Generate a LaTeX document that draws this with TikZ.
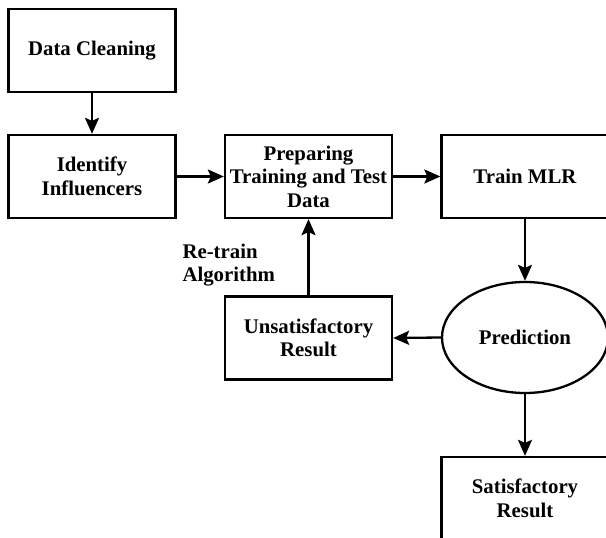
\documentclass[tikz,border=0pt]{standalone}
\usepackage{fontspec}
\setmainfont{Liberation Serif}
\usetikzlibrary{shapes.geometric,arrows.meta}
\begin{document}
\begin{tikzpicture}[x=1pt,y=-1pt,
  every node/.style={font=\fontsize{20.8}{23.5}\selectfont\bfseries, align=center},
  stepbox/.style={draw, line width=2.3pt, minimum width=167pt, minimum height=83pt, inner sep=1pt},
  oval/.style={draw, ellipse, line width=2.3pt, minimum width=166pt, minimum height=111pt, inner sep=0pt},
  flow/.style={draw, line width=2.3pt, -{Stealth[length=16pt,width=14pt,inset=3pt]}}]
  \useasboundingbox (0,0) rectangle (606,538);

  % process boxes
  \node[stepbox] (clean) at (92,50.5) {Data Cleaning};
  \node[stepbox] (infl)  at (92,176.5) {Identify\\Influencers};
  \node[stepbox] (prep)  at (308.5,176.5) {Preparing\\Training and Test\\Data};
  \node[stepbox] (mlr)   at (525,176.5) {Train MLR};
  \node[oval]    (pred)  at (525,337.5) {Prediction};
  \node[stepbox] (unsat) at (308.5,338) {Unsatisfactory\\Result};
  \node[stepbox] (sat)   at (525,498.5) {Satisfactory\\Result};

  % loop label
  \node[anchor=west, align=left] (retrain) at (179,265) {Re-train\\Algorithm};

  % connectors
  \draw[flow] (clean.south) -- (infl.north);
  \draw[flow] (infl.east) -- (prep.west);
  \draw[flow] (prep.east) -- (mlr.west);
  \draw[flow] (mlr.south) -- (pred.north);
  \draw[flow] (pred.west) -- (unsat.east);
  \draw[flow] (unsat.north) -- (prep.south);
  \draw[flow] (pred.south) -- (sat.north);
\end{tikzpicture}
\end{document}
